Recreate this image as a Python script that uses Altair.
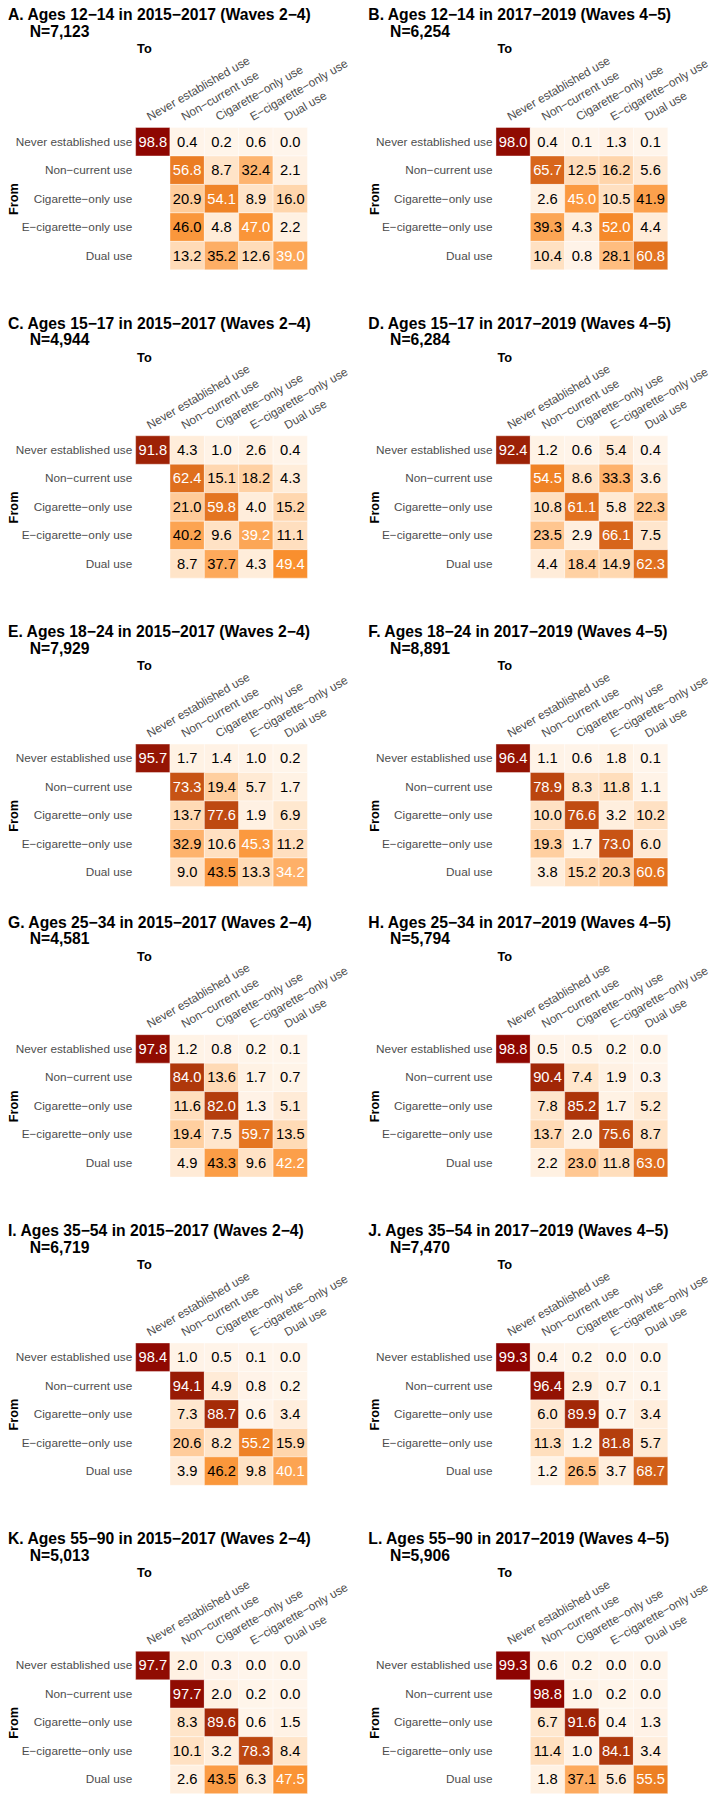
import altair as alt
import pandas as pd

STATES = ["Never established use", "Non−current use", "Cigarette−only use",
          "E−cigarette−only use", "Dual use"]

letters = ["A", "B", "C", "D", "E", "F", "G", "H", "I", "J", "K", "L"]
age_groups = ["12−14", "12−14", "15−17", "15−17", "18−24", "18−24",
              "25−34", "25−34", "35−54", "35−54", "55−90", "55−90"]
periods = ["2015−2017 (Waves 2−4)", "2017−2019 (Waves 4−5)"] * 6
sample_sizes = ["7,123", "6,254", "4,944", "6,284", "7,929", "8,891",
                "4,581", "5,794", "6,719", "7,470", "5,013", "5,906"]

# rows = From, columns = To ; None = not shown
panel_A = [[98.8, 0.4, 0.2, 0.6, 0.0], [None, 56.8, 8.7, 32.4, 2.1], [None, 20.9, 54.1, 8.9, 16.0],
           [None, 46.0, 4.8, 47.0, 2.2], [None, 13.2, 35.2, 12.6, 39.0]]
panel_B = [[98.0, 0.4, 0.1, 1.3, 0.1], [None, 65.7, 12.5, 16.2, 5.6], [None, 2.6, 45.0, 10.5, 41.9],
           [None, 39.3, 4.3, 52.0, 4.4], [None, 10.4, 0.8, 28.1, 60.8]]
panel_C = [[91.8, 4.3, 1.0, 2.6, 0.4], [None, 62.4, 15.1, 18.2, 4.3], [None, 21.0, 59.8, 4.0, 15.2],
           [None, 40.2, 9.6, 39.2, 11.1], [None, 8.7, 37.7, 4.3, 49.4]]
panel_D = [[92.4, 1.2, 0.6, 5.4, 0.4], [None, 54.5, 8.6, 33.3, 3.6], [None, 10.8, 61.1, 5.8, 22.3],
           [None, 23.5, 2.9, 66.1, 7.5], [None, 4.4, 18.4, 14.9, 62.3]]
panel_E = [[95.7, 1.7, 1.4, 1.0, 0.2], [None, 73.3, 19.4, 5.7, 1.7], [None, 13.7, 77.6, 1.9, 6.9],
           [None, 32.9, 10.6, 45.3, 11.2], [None, 9.0, 43.5, 13.3, 34.2]]
panel_F = [[96.4, 1.1, 0.6, 1.8, 0.1], [None, 78.9, 8.3, 11.8, 1.1], [None, 10.0, 76.6, 3.2, 10.2],
           [None, 19.3, 1.7, 73.0, 6.0], [None, 3.8, 15.2, 20.3, 60.6]]
panel_G = [[97.8, 1.2, 0.8, 0.2, 0.1], [None, 84.0, 13.6, 1.7, 0.7], [None, 11.6, 82.0, 1.3, 5.1],
           [None, 19.4, 7.5, 59.7, 13.5], [None, 4.9, 43.3, 9.6, 42.2]]
panel_H = [[98.8, 0.5, 0.5, 0.2, 0.0], [None, 90.4, 7.4, 1.9, 0.3], [None, 7.8, 85.2, 1.7, 5.2],
           [None, 13.7, 2.0, 75.6, 8.7], [None, 2.2, 23.0, 11.8, 63.0]]
panel_I = [[98.4, 1.0, 0.5, 0.1, 0.0], [None, 94.1, 4.9, 0.8, 0.2], [None, 7.3, 88.7, 0.6, 3.4],
           [None, 20.6, 8.2, 55.2, 15.9], [None, 3.9, 46.2, 9.8, 40.1]]
panel_J = [[99.3, 0.4, 0.2, 0.0, 0.0], [None, 96.4, 2.9, 0.7, 0.1], [None, 6.0, 89.9, 0.7, 3.4],
           [None, 11.3, 1.2, 81.8, 5.7], [None, 1.2, 26.5, 3.7, 68.7]]
panel_K = [[97.7, 2.0, 0.3, 0.0, 0.0], [None, 97.7, 2.0, 0.2, 0.0], [None, 8.3, 89.6, 0.6, 1.5],
           [None, 10.1, 3.2, 78.3, 8.4], [None, 2.6, 43.5, 6.3, 47.5]]
panel_L = [[99.3, 0.6, 0.2, 0.0, 0.0], [None, 98.8, 1.0, 0.2, 0.0], [None, 6.7, 91.6, 0.4, 1.3],
           [None, 11.4, 1.0, 84.1, 3.4], [None, 1.8, 37.1, 5.6, 55.5]]

panels = [panel_A, panel_B, panel_C, panel_D, panel_E, panel_F,
          panel_G, panel_H, panel_I, panel_J, panel_K, panel_L]

CELL_W, CELL_H = 35, 29


def make_panel(i):
    mat = panels[i]
    recs = []
    for r, row in enumerate(mat):
        for c, v in enumerate(row):
            if v is None:
                continue
            recs.append({"from": STATES[r], "to": STATES[c], "value": v,
                         "label": f"{v:.1f}", "diag": 1 if r == c else 0})
    df = pd.DataFrame(recs)
    base = alt.Chart(df).encode(
        x=alt.X("to:N", sort=STATES,
                scale=alt.Scale(domain=STATES, paddingInner=0, paddingOuter=0),
                axis=alt.Axis(orient="top", labelAngle=-30, labelAlign="left",
                              labelBaseline="alphabetic", labelPadding=7, labelOffset=-3,
                              labelFontSize=12, labelColor="#4D4D4D", ticks=False,
                              domain=False, grid=False, labelOverlap=False,
                              title="To", titleX=1, titleY=-76, titleAlign="left",
                              titleBaseline="alphabetic", titleAngle=0, titleFontSize=13,
                              titleFontWeight="bold", titleColor="black")),
        y=alt.Y("from:N", sort=STATES,
                scale=alt.Scale(domain=STATES, paddingInner=0, paddingOuter=0),
                axis=alt.Axis(orient="left", labelFontSize=12, labelColor="#4D4D4D",
                              labelPadding=4, ticks=False, domain=False, grid=False,
                              title="From", titleX=-120, titleY=5 * CELL_H / 2,
                              titleAngle=-90, titleAlign="center",
                              titleBaseline="alphabetic", titleFontSize=13,
                              titleFontWeight="bold", titleColor="black")),
    )
    rect = base.mark_rect(stroke="white", strokeWidth=0.4).encode(
        color=alt.Color("value:Q", legend=None,
                        scale=alt.Scale(domain=[0, 50, 100],
                                        range=["#FFF5EB", "#F98E2B", "#8B0000"]))
    )
    text = base.mark_text(fontSize=15, align="center", baseline="middle").encode(
        text="label:N",
        color=alt.condition("datum.diag == 1", alt.value("white"), alt.value("black")),
    )
    title = alt.Title(
        text=[f"{letters[i]}. Ages {age_groups[i]} in {periods[i]}",
              "\u200b" + "\u00a0" * 5 + f"N={sample_sizes[i]}"],
        anchor="start", frame="group", dx=-130, offset=3, fontSize=16,
        fontWeight="bold", color="black", lineHeight=17,
    )
    return alt.layer(rect, text).properties(width=5 * CELL_W, height=5 * CELL_H, title=title)


HS = 19
VS = 46


def row(k):
    return alt.hconcat(make_panel(2 * k), make_panel(2 * k + 1), spacing=HS)


upper = alt.vconcat(row(0), row(1), row(2), spacing=VS)
lower = alt.vconcat(row(3), row(4), row(5), spacing=VS)
chart = alt.vconcat(upper, lower, spacing=VS - 18).properties(
    padding={"left": 0, "top": -17, "right": 0, "bottom": 0}, background="white"
).configure(font="Liberation Sans").configure_view(strokeWidth=0)

chart.save("out.html", embed_options={"renderer": "svg", "actions": False})
